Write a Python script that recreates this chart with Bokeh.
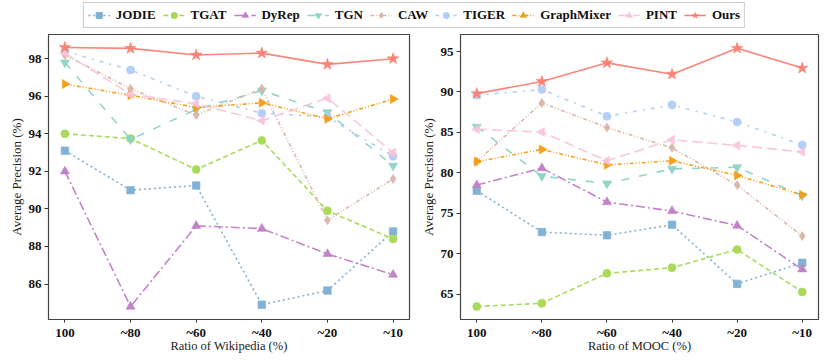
import math
from bokeh.plotting import figure
from bokeh.layouts import column, row
from bokeh.models import Range1d, FixedTicker, Legend, LegendItem
from bokeh.embed import file_html
from bokeh.resources import INLINE

ratios = ["100", "~80", "~60", "~40", "~20", "~10"]
methods = ["JODIE", "TGAT", "DyRep", "TGN", "CAW", "TIGER", "GraphMixer", "PINT", "Ours"]

wiki_jodie = [93.1, 91.0, 91.25, 84.9, 85.65, 88.8]
wiki_tgat = [94.0, 93.75, 92.1, 93.65, 89.9, 88.4]
wiki_dyrep = [92.0, 84.8, 89.1, 88.95, 87.6, 86.5]
wiki_tgn = [97.8, 93.7, 95.3, 96.3, 95.15, 92.3]
wiki_caw = [98.2, 96.4, 95.0, 96.4, 89.4, 91.6]
wiki_tiger = [98.4, 97.4, 96.0, 95.1, 94.9, 92.8]
wiki_graphmixer = [96.65, 96.05, 95.4, 95.65, 94.8, 95.85]
wiki_pint = [98.3, 96.1, 95.6, 94.7, 95.9, 93.0]
wiki_ours = [98.6, 98.55, 98.2, 98.3, 97.7, 98.0]

mooc_jodie = [77.8, 72.7, 72.3, 73.6, 66.3, 68.9]
mooc_tgat = [63.5, 63.9, 67.6, 68.3, 70.55, 65.3]
mooc_dyrep = [78.5, 80.6, 76.4, 75.3, 73.5, 68.1]
mooc_tgn = [85.7, 79.6, 78.7, 80.5, 80.7, 77.2]
mooc_caw = [81.4, 88.65, 85.6, 83.1, 78.5, 72.2]
mooc_tiger = [89.6, 90.3, 87.0, 88.4, 86.3, 83.45]
mooc_graphmixer = [81.4, 82.9, 81.0, 81.5, 79.7, 77.3]
mooc_pint = [85.4, 85.05, 81.5, 84.1, 83.4, 82.6]
mooc_ours = [89.8, 91.3, 93.6, 92.2, 95.4, 92.95]

wiki_data = [wiki_jodie, wiki_tgat, wiki_dyrep, wiki_tgn, wiki_caw, wiki_tiger,
             wiki_graphmixer, wiki_pint, wiki_ours]
mooc_data = [mooc_jodie, mooc_tgat, mooc_dyrep, mooc_tgn, mooc_caw, mooc_tiger,
             mooc_graphmixer, mooc_pint, mooc_ours]

colors = ["#7BAFD4", "#A6D854", "#C07EC6", "#8DD3C7", "#D9B5A6", "#B0CDF7",
          "#F39C12", "#F9C4DE", "#FA8072"]
dashes = ["2 3", "5 3", "9 3 2 3", "8 10", "4 2 1 2 1 2", "4 6 2 6",
          "4 2 1 2 1 2", "10 5", "solid"]
markers = ["square", "circle", "triangle", "inverted_triangle", "diamond", "circle",
           "triangle", "triangle", "star"]
angles = [0, 0, 0, 0, 0, 0, -math.pi / 2, math.pi / 2, 0]
sizes = [7.5, 8, 9, 9, 9, 8, 9, 9, 12]

SERIF = "Liberation Serif"
x_idx = list(range(len(ratios)))


def draw(p, data):
    for i, vals in enumerate(data):
        p.line(x_idx, vals, line_color=colors[i], line_width=1.6, line_dash=dashes[i],
               line_alpha=0.95)
        p.scatter(x_idx, vals, marker=markers[i], angle=angles[i], size=sizes[i],
                  fill_color=colors[i], line_color=colors[i], line_alpha=0.6,
                  fill_alpha=0.95)


def make_fig(data, yr, ticks, xlabel, width, border_left, border_right):
    p = figure(width=width, height=333, output_backend="svg",
               toolbar_location=None, x_range=Range1d(-0.25, 5.25),
               y_range=Range1d(*yr), min_border_left=border_left,
               min_border_right=border_right, min_border_top=5, min_border_bottom=43)
    draw(p, data)
    p.xgrid.visible = False
    p.ygrid.visible = False
    p.outline_line_color = "#444444"
    p.outline_line_width = 1.2
    p.xaxis.ticker = FixedTicker(ticks=x_idx)
    p.xaxis.major_label_overrides = {i: r for i, r in enumerate(ratios)}
    p.yaxis.ticker = FixedTicker(ticks=ticks)
    for ax in (p.xaxis[0], p.yaxis[0]):
        ax.axis_line_color = None
        ax.minor_tick_line_color = None
        ax.major_tick_line_color = "#333333"
        ax.major_tick_out = 4
        ax.major_tick_in = 0
        ax.major_label_text_font = SERIF
        ax.major_label_text_font_style = "bold"
        ax.major_label_text_font_size = "13px"
        ax.major_label_text_color = "#111111"
        ax.axis_label_text_font = SERIF
        ax.axis_label_text_font_style = "normal"
        ax.axis_label_text_color = "#222222"
        ax.major_label_standoff = 3
        ax.axis_label_standoff = 3
    p.yaxis.axis_label_text_font_size = "13px"
    p.xaxis.axis_label_text_font_size = "12.5px"
    p.yaxis.axis_label_standoff = 2
    p.xaxis.major_label_standoff = 2
    p.xaxis.axis_label_standoff = -4
    p.xaxis.major_tick_out = 3
    p.xaxis.axis_label = xlabel
    p.yaxis.axis_label = "Average Precision (%)"
    return p


p1 = make_fig(wiki_data, (84.11, 99.29), [86, 88, 90, 92, 94, 96, 98],
              "Ratio of Wikipedia (%)", 417, 48, 8)
p2 = make_fig(mooc_data, (61.9, 97.1), [65, 70, 75, 80, 85, 90, 95],
              "Ratio of MOOC (%)", 411, 40, 10)

# legend strip
lf = figure(width=828, height=29, output_backend="svg", toolbar_location=None,
            x_range=Range1d(10, 11), y_range=Range1d(10, 11),
            x_axis_type=None, y_axis_type=None, min_border=0)
lf.outline_line_color = None
lf.xgrid.visible = False
lf.ygrid.visible = False
items = []
for i, m in enumerate(methods):
    r1 = lf.line([0, 1], [0, 1], line_color=colors[i], line_width=1.6,
                 line_dash=dashes[i])
    r2 = lf.scatter([0], [0], marker=markers[i], angle=angles[i], size=sizes[i] - 1,
                    fill_color=colors[i], line_color=colors[i], line_alpha=0.6)
    items.append(LegendItem(label=m, renderers=[r1, r2]))
leg = Legend(items=items, orientation="horizontal", location="center",
             label_text_font=SERIF, label_text_font_style="bold",
             label_text_font_size="13px", label_text_color="#111111",
             glyph_width=22, glyph_height=16, label_standoff=6, spacing=7,
             padding=4, margin=0, border_line_color="#cccccc",
             border_line_alpha=1.0, background_fill_alpha=1.0)
lf.add_layout(leg, "center")

layout = column(lf, row(p1, p2, spacing=0), spacing=0)

open("out.html", "w").write(file_html(layout, INLINE))
